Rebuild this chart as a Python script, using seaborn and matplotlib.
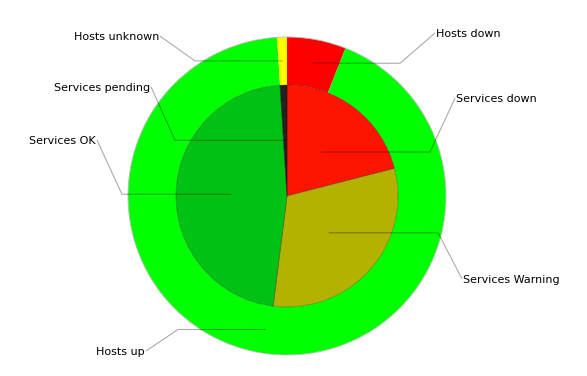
import numpy as np
import matplotlib
matplotlib.use("Agg")
import matplotlib.pyplot as plt
import seaborn as sns

sns.set_theme(style="white")
plt.rcParams['font.family'] = ['DejaVu Sans']

# outer ring: hosts (clockwise from 12 o'clock)
host_labels = ['Hosts down', 'Hosts up', 'Hosts unknown']
host_values = [6, 93, 1]
host_colors = ['#ff0000', '#00ff00', '#ffff00']

# inner pie: services
svc_labels = ['Services down', 'Services Warning', 'Services OK', 'Services pending']
svc_values = [21, 31, 47, 1]
svc_colors = ['#ff1400', '#b4b200', '#00c214', '#222222']

# label layout: elbow x and text end point (data units, outer radius = 1)
host_layout = {'Hosts down': (0.711, 0.931, 1.025),
               'Hosts up': (-0.686, -0.887, -0.975),
               'Hosts unknown': (-0.579, -0.799, 1.006)}
svc_layout = {'Services down': (0.899, 1.057, 0.616),
              'Services Warning': (0.950, 1.101, -0.522),
              'Services OK': (-1.038, -1.195, 0.352),
              'Services pending': (-0.704, -0.855, 0.686)}

fig = plt.figure(figsize=(5.87, 3.76), dpi=100)
ax = fig.add_axes([0, 0, 1, 1])

r_out, r_in = 1.0, 0.698
w_out, _ = ax.pie(host_values, colors=host_colors, radius=r_out, startangle=90,
                  counterclock=False, wedgeprops=dict(width=r_out - r_in, edgecolor='none'))
circ = plt.Circle((0, 0), r_out, fill=False, ec='#bbbbbb', lw=0.6)
ax.add_patch(circ)
w_in, _ = ax.pie(svc_values, colors=svc_colors, radius=r_in, startangle=90,
                 counterclock=False, wedgeprops=dict(edgecolor=(0, 0, 0, 0.3), linewidth=0.6))


def leader(wedge, r_anchor, elbow_x, tx, ty, label):
    mid = np.deg2rad((wedge.theta1 + wedge.theta2) / 2)
    ax_, ay_ = r_anchor * np.cos(mid), r_anchor * np.sin(mid)
    ax.plot([ax_, elbow_x, tx], [ay_, ay_, ty], color='black', alpha=0.33, lw=0.8,
            solid_capstyle='butt')
    ha = 'left' if tx > elbow_x else 'right'
    off = 0.006 if ha == 'left' else -0.006
    ax.text(tx + off, ty - 0.007, label, ha=ha, va='center', fontsize=8, color='black')


for w, lab in zip(w_out, host_labels):
    ex, tx, ty = host_layout[lab]
    leader(w, 0.85, ex, tx, ty, lab)
for w, lab in zip(w_in, svc_labels):
    ex, tx, ty = svc_layout[lab]
    leader(w, 0.35, ex, tx, ty, lab)

ax.set_xlim(-287 / 159, 300 / 159)
ax.set_ylim(-180 / 159, 196 / 159)
ax.set_aspect('auto')
ax.axis('off')

fig.savefig('out.png', dpi=100)
